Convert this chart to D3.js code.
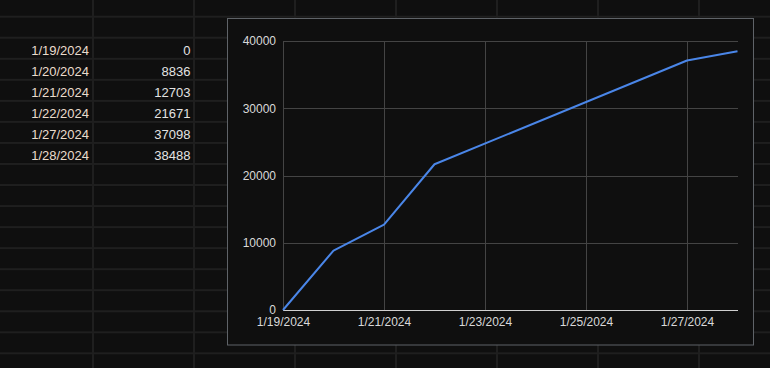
<!DOCTYPE html>
<html>
<head>
<meta charset="utf-8">
<script src="https://cdn.jsdelivr.net/npm/d3@7"></script>
<style>
  html, body { margin: 0; padding: 0; background: #0f0f0f; overflow: hidden; }
  svg { display: block; font-family: Arial, "Liberation Sans", sans-serif; }
</style>
</head>
<body>
<div id="chart"></div>
<script>
const dates = ["1/19/2024", "1/20/2024", "1/21/2024", "1/22/2024", "1/27/2024", "1/28/2024"];
const values = [0, 8836, 12703, 21671, 37098, 38488];
const yTicks = [0, 10000, 20000, 30000, 40000];
const xTickLabels = ["1/19/2024", "1/21/2024", "1/23/2024", "1/25/2024", "1/27/2024"];

const W = 770, H = 368;
const parse = d3.timeParse("%m/%d/%Y");

const svg = d3.select("#chart").append("svg")
  .attr("width", W)
  .attr("height", H);

// spreadsheet background + cell grid
svg.append("rect").attr("width", W).attr("height", H).attr("fill", "#0f0f0f");

const colLines = d3.range(0, 8).map(i => 93 + i * 101);
const rowLines = d3.range(0, 17).map(i => 16.7 + i * 21.04);

svg.selectAll(".col-line")
  .data(colLines)
  .enter().append("rect")
  .attr("class", "col-line")
  .attr("x", d => d - 1)
  .attr("y", 0)
  .attr("width", 2)
  .attr("height", H)
  .attr("fill", "#1f1f1f");

svg.selectAll(".row-line")
  .data(rowLines)
  .enter().append("rect")
  .attr("class", "row-line")
  .attr("x", 0)
  .attr("y", d => d - 1)
  .attr("width", W)
  .attr("height", 2)
  .attr("fill", "#1f1f1f");

// cell text
const rowBase = i => 55 + i * 21.04;

svg.selectAll(".cell-date")
  .data(dates)
  .enter().append("text")
  .attr("class", "cell-date")
  .attr("x", 89)
  .attr("y", (d, i) => rowBase(i))
  .attr("text-anchor", "end")
  .attr("font-size", "13px")
  .attr("fill", "#eadccd")
  .text(d => d);

svg.selectAll(".cell-val")
  .data(values)
  .enter().append("text")
  .attr("class", "cell-val")
  .attr("x", 190.5)
  .attr("y", (d, i) => rowBase(i))
  .attr("text-anchor", "end")
  .attr("font-size", "13px")
  .attr("fill", "#e3e3e3")
  .text(d => d);

// chart box
const box = { x: 227.5, y: 18.5, w: 526, h: 326.5 };
svg.append("rect")
  .attr("x", box.x)
  .attr("y", box.y)
  .attr("width", box.w)
  .attr("height", box.h)
  .attr("fill", "#0f0f0f")
  .attr("stroke", "#5f6368")
  .attr("stroke-width", 1);

const margin = { left: 283, right: 737.5, top: 41, bottom: 310 };
const width = margin.right - margin.left;
const height = margin.bottom - margin.top;

const g = svg.append("g")
  .attr("transform", `translate(${margin.left},${margin.top})`);

const points = dates.map((d, i) => ({ date: parse(d), value: values[i] }));

const xScale = d3.scaleTime()
  .domain([parse(dates[0]), parse(dates[dates.length - 1])])
  .range([0, width]);

const yScale = d3.scaleLinear()
  .domain([0, 40000])
  .range([height, 0]);

const xTickDates = xTickLabels.map(parse);

// gridlines
g.append("g")
  .attr("class", "y-grid")
  .call(d3.axisLeft(yScale).tickValues(yTicks).tickSize(-width).tickFormat(""))
  .call(s => s.select(".domain").remove())
  .call(s => s.selectAll("line").attr("stroke", "#444444").attr("shape-rendering", "crispEdges"));

g.append("g")
  .attr("class", "x-grid")
  .attr("transform", `translate(0,${height})`)
  .call(d3.axisBottom(xScale).tickValues(xTickDates).tickSize(-height).tickFormat(""))
  .call(s => s.select(".domain").remove())
  .call(s => s.selectAll("line").attr("stroke", "#444444").attr("shape-rendering", "crispEdges"));

// zero baseline
g.append("line")
  .attr("x1", 0)
  .attr("x2", width)
  .attr("y1", yScale(0))
  .attr("y2", yScale(0))
  .attr("stroke", "#d0d0d0")
  .attr("stroke-width", 1)
  .attr("shape-rendering", "crispEdges");

// axis labels
g.append("g")
  .attr("class", "y-axis")
  .call(d3.axisLeft(yScale).tickValues(yTicks).tickSize(0).tickPadding(7).tickFormat(d => d))
  .call(s => s.select(".domain").remove())
  .call(s => s.selectAll("text")
    .attr("fill", "#d9d9d9")
    .attr("font-size", "12px")
    .attr("font-family", "Arial, 'Liberation Sans', sans-serif"));

g.append("g")
  .attr("class", "x-axis")
  .attr("transform", `translate(0,${height})`)
  .call(d3.axisBottom(xScale).tickValues(xTickDates).tickSize(0).tickPadding(7)
    .tickFormat((d, i) => xTickLabels[i]))
  .call(s => s.select(".domain").remove())
  .call(s => s.selectAll("text")
    .attr("fill", "#d9d9d9")
    .attr("font-size", "12px")
    .attr("font-family", "Arial, 'Liberation Sans', sans-serif"));

// the series line
const line = d3.line()
  .x(d => xScale(d.date))
  .y(d => yScale(d.value));

g.append("path")
  .datum(points)
  .attr("fill", "none")
  .attr("stroke", "#4a86e8")
  .attr("stroke-width", 2)
  .attr("stroke-linejoin", "round")
  .attr("d", line);
</script>
</body>
</html>
